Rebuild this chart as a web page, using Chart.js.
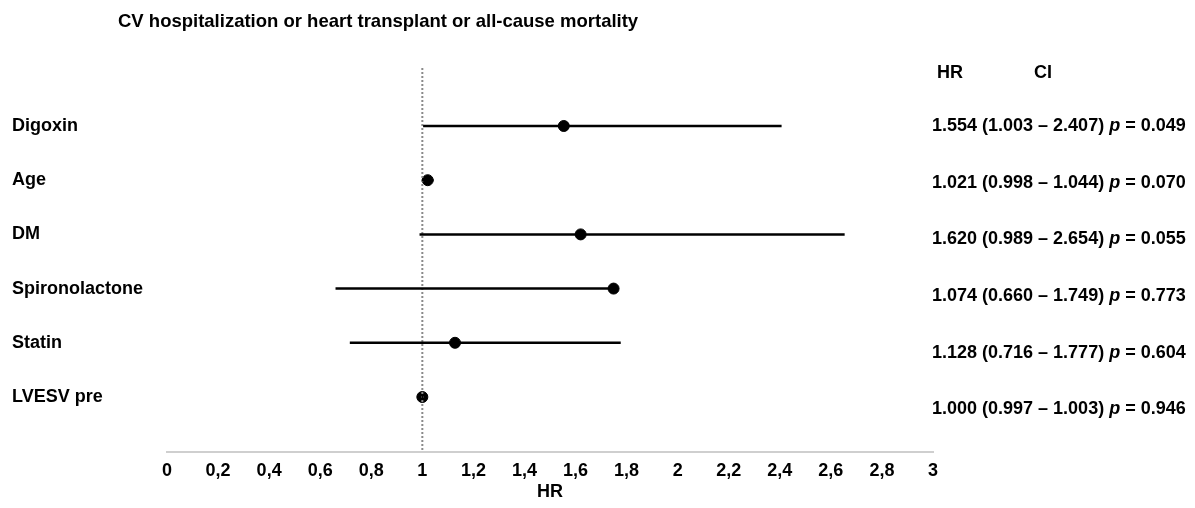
<!DOCTYPE html>
<html lang="en">
<head>
    <meta charset="UTF-8">
    <title>Forest plot</title>
    <script src="https://cdn.jsdelivr.net/npm/chart.js@4.4.1/dist/chart.umd.min.js"></script>
    <style>
        html, body { margin: 0; padding: 0; background: #fff; }
        #wrap { width: 1195px; height: 508px; }
    </style>
</head>
<body>
    <div id="wrap"><canvas id="myChart" width="1195" height="508"></canvas></div>
    <script>
        // values
        const title = 'CV hospitalization or heart transplant or all-cause mortality';
        const names = ['Digoxin', 'Age', 'DM', 'Spironolactone', 'Statin', 'LVESV pre'];
        const hrPoint = [1.554, 1.021, 1.620, 1.749, 1.128, 1.000];   // dot as drawn
        const ciLow = [1.003, 0.998, 0.989, 0.660, 0.716, 0.997];
        const ciHigh = [2.407, 1.044, 2.654, 1.749, 1.777, 1.003];
        const hrText = ['1.554', '1.021', '1.620', '1.074', '1.128', '1.000'];
        const ciText = ['1.003 – 2.407', '0.998 – 1.044', '0.989 – 2.654', '0.660 – 1.749', '0.716 – 1.777', '0.997 – 1.003'];
        const pText = ['0.049', '0.070', '0.055', '0.773', '0.604', '0.946'];
        const xTicks = [0, 0.2, 0.4, 0.6, 0.8, 1, 1.2, 1.4, 1.6, 1.8, 2, 2.2, 2.4, 2.6, 2.8, 3];

        const FONT = '"Liberation Sans", Arial, sans-serif';

        let datasets = [];
        // CI lines
        names.forEach((n, i) => {
            datasets.push({
                type: 'scatter',
                data: [{x: ciLow[i], y: i}, {x: ciHigh[i], y: i}],
                showLine: true,
                borderColor: '#000',
                borderWidth: 2.5,
                pointRadius: 0
            });
        });
        // reference line at HR = 1
        datasets.push({
            type: 'scatter',
            data: [{x: 1, y: -1.07}, {x: 1, y: 6.015}],
            showLine: true,
            borderColor: '#8a8a8a',
            borderWidth: 2,
            borderDash: [2, 2],
            pointRadius: 0
        });
        // HR dots
        datasets.push({
            type: 'scatter',
            data: hrPoint.map((v, i) => ({x: v, y: i})),
            pointRadius: 5.5,
            pointBackgroundColor: '#000',
            pointBorderColor: '#000'
        });

        const textPlugin = {
            id: 'textPlugin',
            afterDraw(chart) {
                const ctx = chart.ctx;
                const y = chart.scales.y;
                ctx.save();
                ctx.fillStyle = '#000';
                ctx.textBaseline = 'middle';
                ctx.textAlign = 'left';
                ctx.font = 'bold 18.5px ' + FONT;
                ctx.fillText(title, 118, 22);
                ctx.font = 'bold 18px ' + FONT;
                ctx.fillText('HR', 937, 73);
                ctx.fillText('CI', 1034, 73);
                names.forEach((n, i) => {
                    const py = y.getPixelForValue(i * 1.045);
                    let x = 932;
                    ctx.font = 'bold 18px ' + FONT;
                    const s1 = hrText[i] + ' (' + ciText[i] + ') ';
                    ctx.fillText(s1, x, py);
                    x += ctx.measureText(s1).width;
                    ctx.font = 'italic bold 18px ' + FONT;
                    ctx.fillText('p', x, py);
                    x += ctx.measureText('p').width;
                    ctx.font = 'bold 18px ' + FONT;
                    ctx.fillText(' = ' + pText[i], x, py);
                });
                ctx.restore();
            }
        };

        const ctx = document.getElementById('myChart').getContext('2d');
        const myChart = new Chart(ctx, {
            data: { datasets: datasets },
            options: {
                responsive: false,
                animation: false,
                layout: { padding: { left: 12, right: 262, top: 68, bottom: 5 } },
                plugins: {
                    legend: { display: false },
                    tooltip: { enabled: false }
                },
                scales: {
                    x: {
                        type: 'linear',
                        min: 0,
                        max: 3,
                        afterBuildTicks: (s) => { s.ticks = xTicks.map(v => ({value: v})); },
                        afterFit: (s) => { s.height = 51; },
                        grid: { display: false, drawTicks: false },
                        border: { display: true, color: '#cfcfcf', width: 2 },
                        ticks: {
                            color: '#000',
                            padding: 8,
                            maxRotation: 0,
                            autoSkip: false,
                            font: { family: FONT, size: 18, weight: 'bold' },
                            callback: (v) => String(Math.round(v * 10) / 10).replace('.', ',')
                        },
                        title: {
                            display: true,
                            text: 'HR',
                            color: '#000',
                            padding: { top: 0, bottom: 0 },
                            font: { family: FONT, size: 18, weight: 'bold' }
                        }
                    },
                    y: {
                        type: 'linear',
                        reverse: true,
                        min: -1.07,
                        max: 6.015,
                        afterBuildTicks: (s) => { s.ticks = names.map((n, i) => ({value: i})); },
                        afterFit: (s) => { s.width = 155; },
                        grid: { display: false, drawTicks: false },
                        border: { display: false },
                        ticks: {
                            color: '#000',
                            crossAlign: 'far',
                            font: { family: FONT, size: 18, weight: 'bold' },
                            callback: (v) => names[v]
                        }
                    }
                }
            },
            plugins: [textPlugin]
        });
    </script>
</body>
</html>
